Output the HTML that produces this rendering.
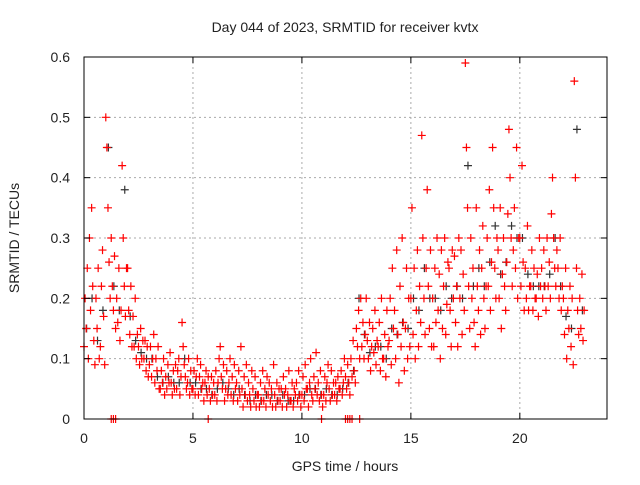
<!DOCTYPE html>
<html><head><meta charset="utf-8"><style>
body{margin:0;background:#fff}
svg text{font-family:"Liberation Sans",sans-serif;font-size:14px;fill:#222}
</style></head><body>
<svg id="chart" width="640" height="480" xmlns="http://www.w3.org/2000/svg">
<text x="345" y="32" text-anchor="middle">Day 044 of 2023, SRMTID for receiver kvtx</text>
<text transform="translate(19,238) rotate(-90)" text-anchor="middle">SRMTID / TECUs</text>
<text x="345" y="471" text-anchor="middle">GPS time / hours</text>
<g id="grid"></g><g id="marks"></g>
<rect x="84" y="57" width="523" height="362" fill="none" stroke="#000" stroke-width="1"/>
<g id="axes"></g>
</svg>
<script>
const xTicks=[0,5,10,15,20];
const yTicks=[0,0.1,0.2,0.3,0.4,0.5,0.6];
const yTickLabels=["0","0.1","0.2","0.3","0.4","0.5","0.6"];
const binWidth=0.25;
const redVals=[
[.12,.2,.15,.25,.1],[.3,.18,.35,.22,.13],[.09,.2,.15,.25,.1],[.12,.22,.28,.17,.09],
[.5,.45,.35,.26,.2],[.3,.22,.18,.27,.15],[.2,.16,.25,.13,.18],[.42,.3,.22,.17,.25],
[.25,.18,.14,.22,.12],[.17,.12,.2,.1,.14],[.12,.09,.15,.1,.13],[.1,.13,.08,.12,.07],
[.09,.12,.07,.1,.14],[.06,.1,.08,.12,.05],[.05,.08,.06,.1,.04],[.07,.05,.09,.06,.11],
[.06,.04,.08,.05,.09],[.05,.08,.1,.04,.07],[.16,.12,.09,.07,.05],[.06,.1,.04,.08,.05],
[.05,.08,.04,.07,.1],[.04,.07,.09,.05,.06],[.03,.06,.08,.04,.07],[.05,.03,.07,.04,.06],
[.04,.08,.03,.06,.1],[.12,.07,.05,.09,.03],[.05,.08,.04,.06,.1],[.04,.07,.03,.09,.05],
[.06,.03,.08,.04,.12],[.05,.02,.07,.04,.09],[.03,.06,.04,.02,.08],[.05,.03,.07,.02,.04],
[.04,.02,.06,.03,.08],[.03,.05,.02,.07,.04],[.06,.03,.05,.02,.09],[.04,.02,.06,.03,.05],
[.03,.05,.02,.07,.04],[.05,.02,.04,.08,.03],[.03,.06,.02,.05,.04],[.06,.03,.08,.04,.02],
[.04,.07,.03,.09,.05],[.05,.02,.06,.1,.04],[.03,.07,.05,.11,.04],[.06,.03,.08,.04,.02],
[.04,.07,.03,.06,.09],[.05,.03,.08,.04,.06],[.04,.06,.03,.07,.05],[.05,.08,.04,.06,.1],
[.07,.05,.09,.06,.04],[.1,.07,.13,.08,.06],[.15,.12,.18,.1,.2],[.12,.16,.1,.14,.2],
[.13,.1,.16,.08,.12],[.15,.11,.18,.09,.13],[.12,.16,.08,.2,.1],[.1,.14,.07,.18,.12],
[.13,.2,.09,.25,.15],[.18,.1,.28,.14,.06],[.22,.12,.3,.16,.08],[.15,.25,.1,.2,.12],
[.2,.35,.14,.25,.1],[.18,.28,.12,.22,.16],[.47,.3,.2,.14,.25],[.38,.22,.15,.28,.12],
[.2,.12,.25,.16,.3],[.18,.24,.1,.28,.15],[.22,.3,.14,.19,.26],[.25,.18,.12,.28,.2],
[.27,.16,.22,.12,.3],[.2,.28,.14,.24,.18],[.59,.45,.35,.22,.15],[.3,.2,.25,.16,.12],
[.35,.22,.18,.28,.14],[.25,.32,.2,.15,.22],[.3,.22,.38,.18,.26],[.45,.35,.25,.2,.3],
[.28,.2,.35,.15,.24],[.3,.22,.18,.26,.34],[.48,.4,.3,.22,.28],[.35,.25,.45,.2,.3],
[.3,.22,.42,.26,.18],[.25,.2,.32,.18,.22],[.22,.28,.18,.25,.2],[.2,.24,.17,.3,.22],
[.25,.2,.28,.22,.18],[.3,.22,.26,.2,.34],[.4,.3,.25,.22,.28],[.25,.2,.3,.18,.22],
[.2,.14,.25,.1,.18],[.15,.22,.12,.2,.09],[.56,.4,.25,.18,.14],[.2,.15,.24,.13,.18]];
const blackVals=[.15,.2,.13,.18,.45,.22,.18,.38,.17,.13,.11,.1,.1,.07,.06,.07,.06,.06,.1,.06,
.06,.05,.05,.04,.05,.06,.05,.04,.05,.04,.03,.04,.03,.04,.04,.03,.04,.03,.03,.04,
.04,.05,.05,.04,.05,.04,.04,.05,.06,.08,.2,.14,.11,.12,.12,.1,.15,.14,.16,.15,
.2,.18,.25,.2,.2,.18,.22,.2,.22,.2,.42,.22,.25,.22,.26,.32,.24,.26,.32,.3,
.3,.24,.22,.22,.22,.24,.3,.22,.17,.15,.48,.18];
const zeroTimes=[1.25,1.35,1.45,5.7,10.9,12.0,12.1,12.2,12.3,12.65];
const X=t=>84+t*(523/24), Y=v=>419-v*(362/0.6);
const NS="http://www.w3.org/2000/svg";
const grid=document.getElementById('grid'),marks=document.getElementById('marks'),axes=document.getElementById('axes');
function mk(tag,attrs,parent){const e=document.createElementNS(NS,tag);for(const k in attrs)e.setAttribute(k,attrs[k]);parent.appendChild(e);return e;}
xTicks.forEach(t=>{
 const g=mk('line',{x1:X(t),x2:X(t),y1:57,y2:419,stroke:'#aaa','stroke-dasharray':'2,3'},grid);
 
 
 mk('line',{x1:X(t),x2:X(t),y1:419,y2:413,stroke:'#000'},axes);
 mk('line',{x1:X(t),x2:X(t),y1:57,y2:63,stroke:'#000'},axes);
 const l=mk('text',{x:X(t),y:443,'text-anchor':'middle'},axes);l.textContent=t;
 
 
});
yTicks.forEach((v,i)=>{
 const g=mk('line',{x1:84,x2:607,y1:Y(v),y2:Y(v),stroke:'#aaa','stroke-dasharray':'2,3'},grid);
 
 
 mk('line',{x1:84,x2:90,y1:Y(v),y2:Y(v),stroke:'#000'},axes);
 mk('line',{x1:601,x2:607,y1:Y(v),y2:Y(v),stroke:'#000'},axes);
 const l=mk('text',{x:70,y:Y(v)+5,'text-anchor':'end'},axes);l.textContent=yTickLabels[i];
 
 
});
function plus(t,v,c,name){
 const x=X(t),y=Y(v);
 const p=mk('path',{d:`M${x-4},${y}H${x+4}M${x},${y-4}V${y+4}`,stroke:c,'stroke-width':1.2,fill:'none'},marks);
 
 
}
blackVals.forEach((v,i)=>plus(i*binWidth+0.12,v,'#333','black-point'));
redVals.forEach((arr,i)=>arr.forEach((v,j)=>plus(i*binWidth+j*0.05,v,'#f00','red-point')));
zeroTimes.forEach(t=>plus(t,0,'#f00','zero-point'));
</script>
</body></html>
